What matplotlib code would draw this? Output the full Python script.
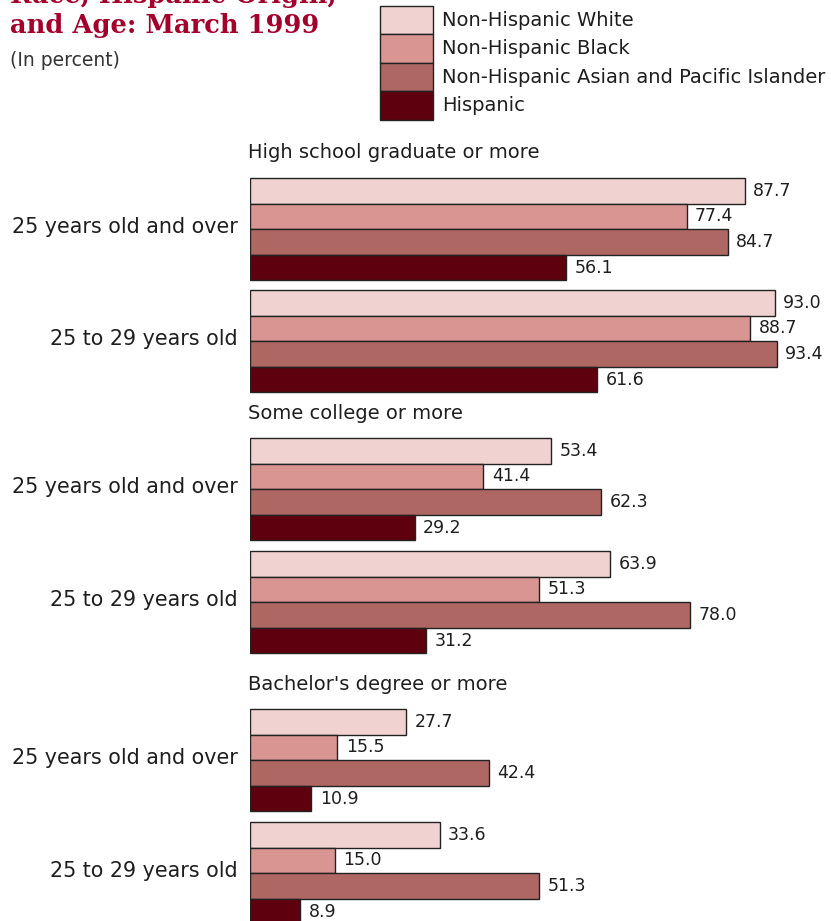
import matplotlib
matplotlib.use("Agg")
from matplotlib import pyplot as plt
from matplotlib.patches import Rectangle

# data
races = ["Non-Hispanic White", "Non-Hispanic Black",
         "Non-Hispanic Asian and Pacific Islander", "Hispanic"]
levels = ["High school graduate or more", "Some college or more",
          "Bachelor's degree or more"]
ages = ["25 years old and over", "25 to 29 years old"]

# values[level][age] -> one per race
high_school = [[87.7, 77.4, 84.7, 56.1], [93.0, 88.7, 93.4, 61.6]]
some_college = [[53.4, 41.4, 62.3, 29.2], [63.9, 51.3, 78.0, 31.2]]
bachelors = [[27.7, 15.5, 42.4, 10.9], [33.6, 15.0, 51.3, 8.9]]
values = [high_school, some_college, bachelors]

colors = ["#F0D3D0", "#D99591", "#AE6763", "#5E000E"]
EDGE = "#222222"
TEXT = "#1e1e1e"

W, H = 831, 921
fig = plt.figure(figsize=(W / 100, H / 100), dpi=100)

# axes in pixel-like units for y, percent for x
PX = 5.64  # pixels per percent point
left_px = 250
ax = fig.add_axes([left_px / W, 0, (W - left_px) / W, 1])
ax.set_xlim(0, (W - left_px) / PX)
ax.set_ylim(H, 0)
ax.axis("off")

bar_h = 25.6
group_tops = [178, 290, 438, 551, 709, 822]
heading_offset = 25

g = 0
for li, level in enumerate(levels):
    # heading above the first group of each section
    fig.text(248 / W, 1 - (group_tops[g] - heading_offset) / H, level,
             fontsize=14, color=TEXT, ha="left", va="center")
    for ai, age in enumerate(ages):
        top = group_tops[g]
        for ri in range(len(races)):
            v = values[li][ai][ri]
            yc = top + bar_h * (ri + 0.5)
            ax.barh(yc, v, height=bar_h, left=0, color=colors[ri],
                    edgecolor=EDGE, linewidth=1.0)
            ax.annotate("{:.1f}".format(v), (v, yc), xytext=(6, 0),
                        textcoords="offset points", ha="left", va="center",
                        fontsize=12.5, color=TEXT)
        yc_group = top + bar_h * 2 - 2
        fig.text(238 / W, 1 - yc_group / H, age, fontsize=14.9, color=TEXT,
                 ha="right", va="center")
        g += 1

# title (top line is cut off in the original)
title_color = "#A3002B"
fig.text(10 / W, 1 - (-5) / H, "Race, Hispanic Origin,", fontsize=18.5,
         family="DejaVu Serif", weight="bold", color=title_color,
         ha="left", va="center")
fig.text(10 / W, 1 - 25 / H, "and Age: March 1999", fontsize=18.5,
         family="DejaVu Serif", weight="bold", color=title_color,
         ha="left", va="center")
fig.text(10 / W, 1 - 61 / H, "(In percent)", fontsize=13.5, color="#333333",
         ha="left", va="center")

# legend drawn by hand
row_h = 28.5
leg_top = 6
for ri, race in enumerate(races):
    y0 = leg_top + ri * row_h
    fig.patches.append(Rectangle((380 / W, 1 - (y0 + row_h) / H), 53 / W,
                                 row_h / H, transform=fig.transFigure,
                                 facecolor=colors[ri], edgecolor=EDGE,
                                 linewidth=1.0))
    fig.text(442 / W, 1 - (y0 + row_h / 2) / H, race, fontsize=14.0,
             color=TEXT, ha="left", va="center")

fig.savefig("out.png", dpi=100)
